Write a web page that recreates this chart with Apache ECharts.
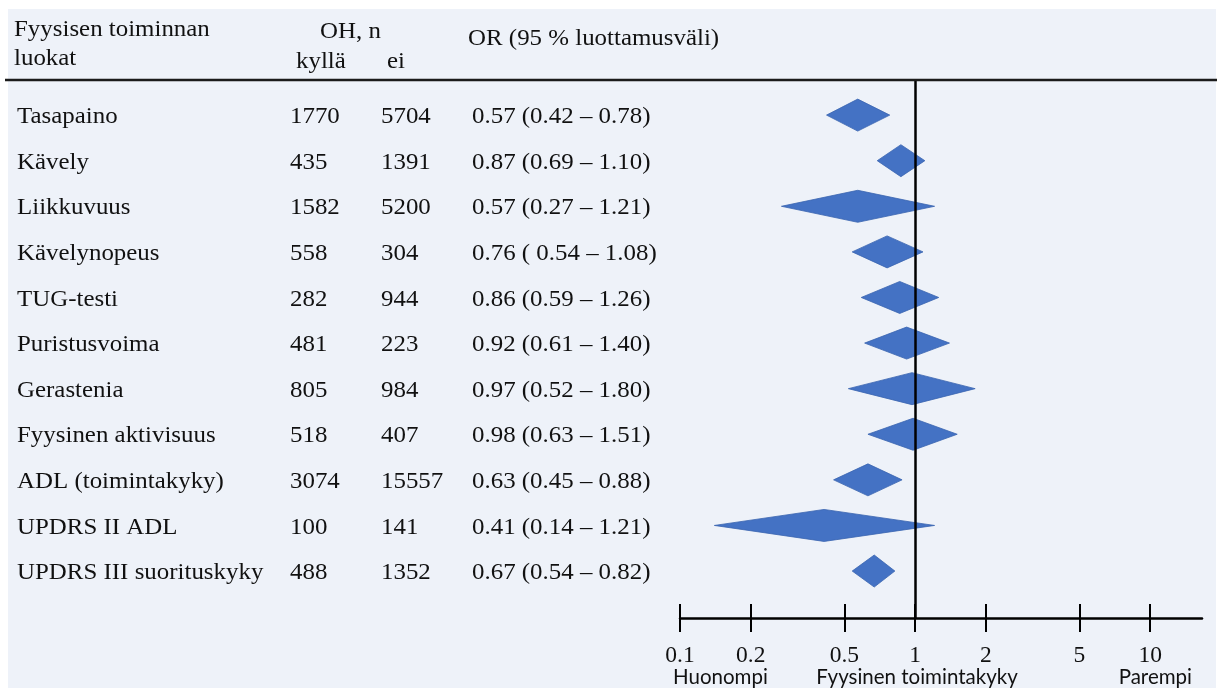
<!DOCTYPE html>
<html>
<head>
<meta charset="utf-8">
<script src="https://cdn.jsdelivr.net/npm/echarts@6/dist/echarts.min.js"></script>
<style>html,body{margin:0;padding:0;background:#fff}#c{width:1217px;height:688px}</style>
</head>
<body>
<div id="c"></div>
<script>
const categories = ['Tasapaino','Kävely','Liikkuvuus','Kävelynopeus','TUG-testi','Puristusvoima','Gerastenia','Fyysinen aktivisuus','ADL (toimintakyky)','UPDRS II ADL','UPDRS III suorituskyky'];
const ohYes = [1770, 435, 1582, 558, 282, 481, 805, 518, 3074, 100, 488];
const ohNo = [5704, 1391, 5200, 304, 944, 223, 984, 407, 15557, 141, 1352];
const orValue = [0.57, 0.87, 0.57, 0.76, 0.86, 0.92, 0.97, 0.98, 0.63, 0.41, 0.67];
const ciLow = [0.42, 0.69, 0.27, 0.54, 0.59, 0.61, 0.52, 0.63, 0.45, 0.14, 0.54];
const ciHigh = [0.78, 1.10, 1.21, 1.08, 1.26, 1.40, 1.80, 1.51, 0.88, 1.21, 0.82];
const orText = ['0.57 (0.42 – 0.78)','0.87 (0.69 – 1.10)','0.57 (0.27 – 1.21)','0.76 ( 0.54 – 1.08)','0.86 (0.59 – 1.26)','0.92 (0.61 – 1.40)','0.97 (0.52 – 1.80)','0.98 (0.63 – 1.51)','0.63 (0.45 – 0.88)','0.41 (0.14 – 1.21)','0.67 (0.54 – 0.82)'];
const xTicks = [0.1, 0.2, 0.5, 1, 2, 5, 10];

const SERIF = '"Liberation Serif", "Times New Roman", serif';
const SANS = 'Lato, "Liberation Sans", sans-serif';
const FS = 23.5, SX = 1.06, TEXT_DY = 2;

const chart = echarts.init(document.getElementById('c'), null, {renderer: 'canvas'});

function sText(x, y, text, extra) {
  return Object.assign({
    type: 'text', x: x, y: y + TEXT_DY, scaleX: SX,
    style: {text: text, font: FS + 'px ' + SERIF, fill: '#111', align: 'left', verticalAlign: 'middle'}
  }, extra || {});
}

const rows = categories.map((c, i) => [i, orValue[i], ciLow[i], ciHigh[i]]);
const tableRows = categories.map((c, i) => [i]);

const option = {
  backgroundColor: '#ffffff',
  animation: false,
  grid: {left: 680, right: 15, top: 80, bottom: 70, outerBoundsMode: 'none', containLabel: false},
  xAxis: [
    {
      type: 'log', logBase: 10, min: 0.1, max: 16.6, position: 'bottom',
      axisLine: {show: true, onZero: false, lineStyle: {color: '#000', width: 2.5}},
      axisTick: {show: true, inside: false, length: 14, customValues: xTicks, lineStyle: {color: '#000', width: 2}},
      axisLabel: {show: true, customValues: xTicks, margin: 26, color: '#111', fontFamily: SERIF, fontSize: 23.5,
        formatter: v => String(+(+v).toPrecision(3))},
      splitLine: {show: false}, minorTick: {show: false}, minorSplitLine: {show: false}
    },
    {
      type: 'log', logBase: 10, min: 0.1, max: 16.6, position: 'bottom', gridIndex: 0,
      axisLine: {show: false, onZero: false},
      axisTick: {show: true, inside: true, length: 14, customValues: xTicks, lineStyle: {color: '#000', width: 2}},
      axisLabel: {show: false},
      splitLine: {show: false}
    }
  ],
  yAxis: {type: 'value', min: -0.77, max: 11.03, inverse: true, show: false, splitLine: {show: false}},
  graphic: [
    {type: 'rect', z: -10, shape: {x: 8, y: 9, width: 1208, height: 679}, style: {fill: '#EEF2F9'}, silent: true},
    {type: 'line', z: 10, shape: {x1: 5, y1: 80, x2: 1217, y2: 80}, style: {stroke: '#1b1b1b', lineWidth: 2.5}},
    sText(14, 28, 'Fyysisen toiminnan'),
    sText(14, 57, 'luokat'),
    sText(320, 30, 'OH, n'),
    sText(296, 60, 'kyllä'),
    sText(387, 60, 'ei'),
    sText(468, 37, 'OR (95 % luottamusväli)'),
    {type: 'text', x: 673, y: 677, style: {text: 'Huonompi', font: '20.5px ' + SANS, fill: '#111', align: 'left', verticalAlign: 'middle'}},
    {type: 'text', x: 917, y: 677, style: {text: 'Fyysinen toimintakyky', font: '20.5px ' + SANS, fill: '#111', align: 'center', verticalAlign: 'middle'}},
    {type: 'text', x: 1192, y: 677, style: {text: 'Parempi', font: '20.5px ' + SANS, fill: '#111', align: 'right', verticalAlign: 'middle'}}
  ],
  series: [
    {
      type: 'custom', name: 'OR', xAxisIndex: 0, yAxisIndex: 0, clip: false,
      encode: {x: [1, 2, 3], y: 0},
      data: rows,
      renderItem: function (params, api) {
        const i = api.value(0);
        const c = api.coord([api.value(1), i]);
        const l = api.coord([api.value(2), i]);
        const r = api.coord([api.value(3), i]);
        const h = 16;
        return {
          type: 'polygon',
          shape: {points: [[l[0], c[1]], [c[0], c[1] - h], [r[0], c[1]], [c[0], c[1] + h]]},
          style: {fill: '#4472C4', stroke: '#3A64B0', lineWidth: 0.8}
        };
      },
      markLine: {
        silent: true, symbol: 'none', label: {show: false}, animation: false,
        lineStyle: {color: '#000', width: 2.5, type: 'solid'},
        data: [{xAxis: 1}]
      },
      z: 3
    },
    {
      type: 'custom', name: 'table', xAxisIndex: 0, yAxisIndex: 0, clip: false,
      data: tableRows,
      encode: {y: 0},
      renderItem: function (params, api) {
        const i = api.value(0);
        const y = api.coord([1, i])[1];
        return {
          type: 'group',
          children: [
            sText(17, y, categories[i]),
            sText(290, y, String(ohYes[i])),
            sText(381, y, String(ohNo[i])),
            sText(472, y, orText[i])
          ]
        };
      }
    }
  ]
};
chart.setOption(option);
</script>
</body>
</html>
